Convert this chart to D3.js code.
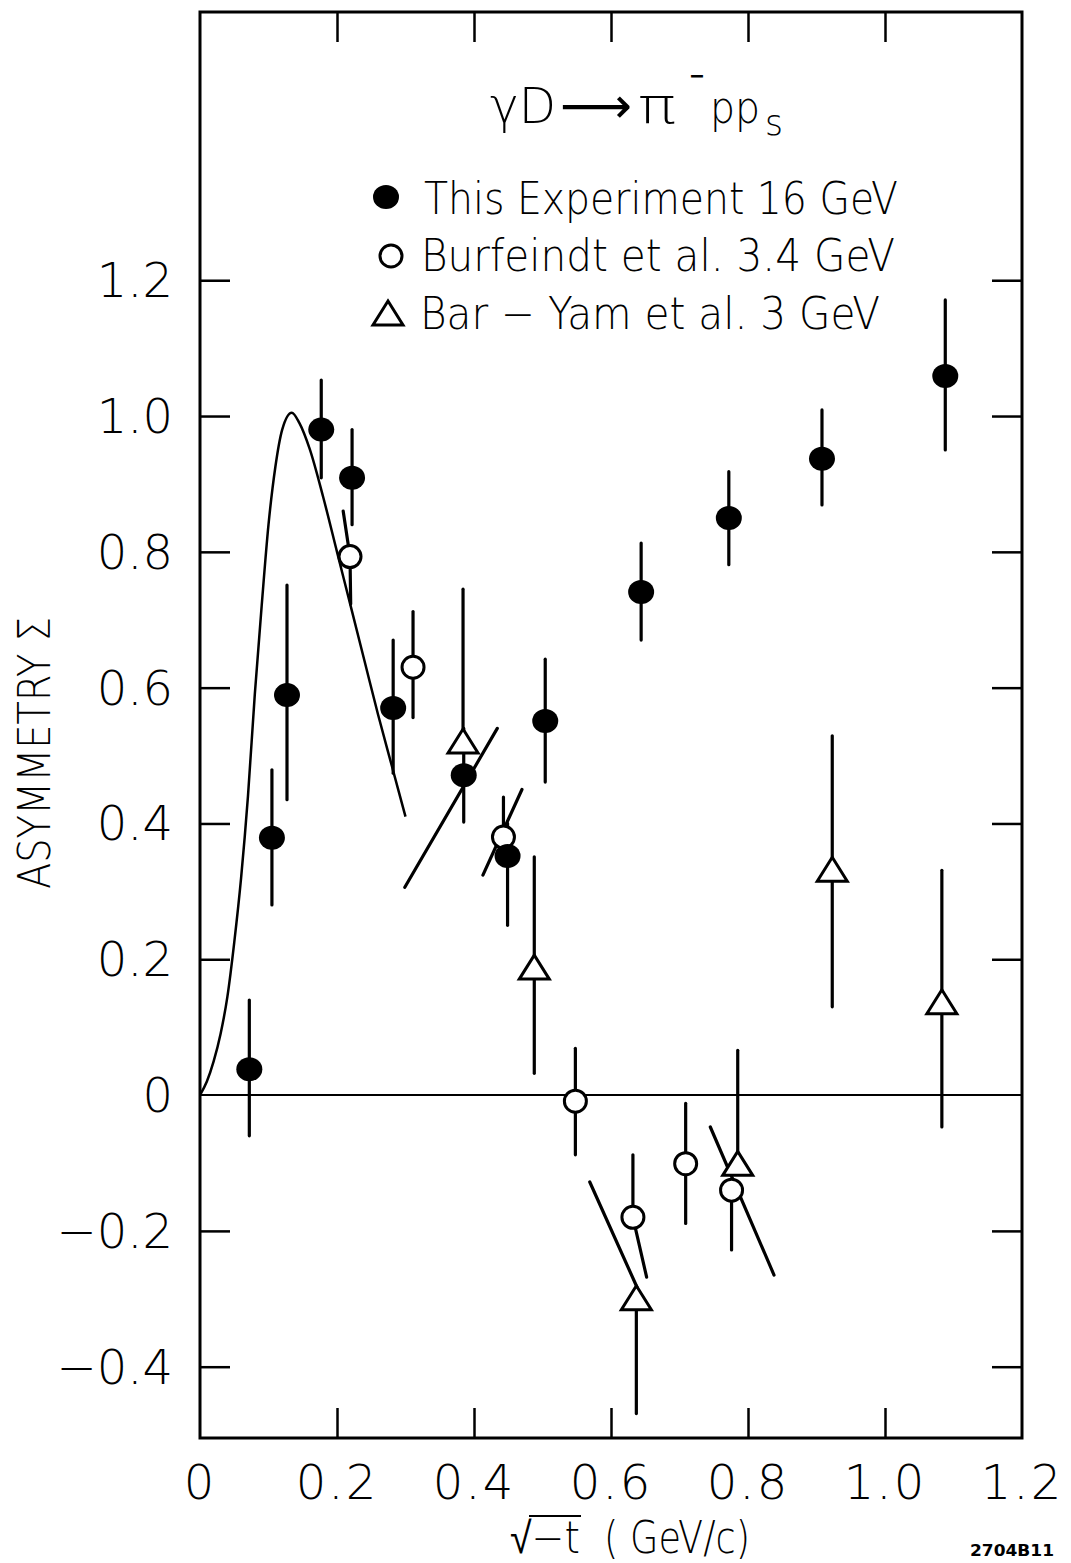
<!DOCTYPE html>
<html><head><meta charset="utf-8">
<script src="https://cdn.jsdelivr.net/npm/d3@7"></script>
<style>body{margin:0;background:#fff}svg{display:block}</style>
</head><body>
<svg id="c" width="1071" height="1563"></svg>
<script>
// ---- axis ticks ----
const xTickValues = [0, 0.2, 0.4, 0.6, 0.8, 1.0, 1.2];
const xTickLabels = ["0", "0.2", "0.4", "0.6", "0.8", "1.0", "1.2"];
const yTickValues = [-0.4, -0.2, 0, 0.2, 0.4, 0.6, 0.8, 1.0, 1.2];
const yTickLabels = ["\u22120.4", "\u22120.2", "0", "0.2", "0.4", "0.6", "0.8", "1.0", "1.2"];

// ---- This Experiment 16 GeV (filled circles) ----
const expX  = [0.072, 0.105, 0.127, 0.177, 0.222, 0.282, 0.385, 0.449, 0.504, 0.644, 0.772, 0.908, 1.088];
const expY  = [0.038, 0.379, 0.589, 0.980, 0.909, 0.570, 0.471, 0.352, 0.551, 0.741, 0.850, 0.937, 1.059];
const expLo = [-0.060, 0.280, 0.435, 0.909, 0.840, 0.474, 0.402, 0.250, 0.461, 0.670, 0.781, 0.869, 0.950];
const expHi = [0.140, 0.479, 0.751, 1.053, 0.980, 0.670, 0.540, 0.400, 0.642, 0.813, 0.918, 1.009, 1.171];

// ---- Burfeindt et al. 3.4 GeV (open circles); bar end points ----
const burX   = [0.219, 0.311, 0.443, 0.548, 0.632, 0.709, 0.776];
const burY   = [0.793, 0.630, 0.380, -0.009, -0.180, -0.101, -0.140];
const burHiX = [0.209, 0.311, 0.443, 0.548, 0.632, 0.709, 0.776];
const burHiY = [0.860, 0.712, 0.439, 0.069, -0.088, -0.012, -0.140];
const burLoX = [0.220, 0.311, 0.443, 0.548, 0.652, 0.709, 0.776];
const burLoY = [0.723, 0.556, 0.380, -0.088, -0.268, -0.189, -0.228];

// ---- Bar-Yam et al. 3 GeV (open triangles) ----
const byX  = [0.384, 0.488, 0.637, 0.785, 0.923, 1.083];
const byY  = [0.520, 0.187, -0.300, -0.102, 0.331, 0.136];
const byHi = [0.745, 0.351, -0.300, 0.066, 0.529, 0.331];
const byLo = [0.520, 0.032, -0.469, -0.102, 0.130, -0.047];

// ---- slanted error segments ----
const slX1 = [0.299, 0.413, 0.569, 0.745];
const slY1 = [0.306, 0.324, -0.128, -0.047];
const slX2 = [0.434, 0.470, 0.638, 0.838];
const slY2 = [0.540, 0.450, -0.283, -0.265];

// ---- theory curve ----
const curveX = [0, 0.01, 0.02, 0.03, 0.04, 0.05, 0.06, 0.07, 0.08, 0.09, 0.10, 0.11, 0.12, 0.134,
                0.145, 0.16, 0.18, 0.20, 0.22, 0.24, 0.26, 0.28, 0.30];
const curveY = [0, 0.02, 0.05, 0.09, 0.145, 0.225, 0.32, 0.44, 0.59, 0.72, 0.84, 0.925, 0.98, 1.005,
                0.99, 0.952, 0.88, 0.80, 0.72, 0.64, 0.56, 0.485, 0.41];

const FONT = "'DejaVu Sans', sans-serif";
const svg = d3.select("#c");
const x = d3.scaleLinear().domain([0, 1.2]).range([200, 1022]);
const y = d3.scaleLinear().domain([-0.505, 1.595]).range([1438, 12]);
const X0 = x.range()[0], X1 = x.range()[1], Y0 = y.range()[0], Y1 = y.range()[1];
const TL = 30;

const g = svg.append("g");

// frame
g.append("rect").attr("x", X0).attr("y", Y1).attr("width", X1 - X0).attr("height", Y0 - Y1)
  .attr("fill", "none").attr("stroke", "#000").attr("stroke-width", 3);

// axes with inward ticks via d3 axis
const innerX = xTickValues.filter(v => v > 0 && v < 1.2);
const innerY = yTickValues.filter(v => v !== 0);
const axB = g.append("g").attr("transform", `translate(0,${Y0})`)
  .call(d3.axisTop(x).tickValues(innerX).tickSize(TL).tickFormat(""));
const axT = g.append("g").attr("transform", `translate(0,${Y1})`)
  .call(d3.axisBottom(x).tickValues(innerX).tickSize(TL).tickFormat(""));
const axL = g.append("g").attr("transform", `translate(${X0},0)`)
  .call(d3.axisRight(y).tickValues(innerY).tickSize(TL).tickFormat(""));
const axR = g.append("g").attr("transform", `translate(${X1},0)`)
  .call(d3.axisLeft(y).tickValues(innerY).tickSize(TL).tickFormat(""));
[axB, axT, axL, axR].forEach(a => {
  a.select(".domain").remove();
  a.selectAll("line").attr("stroke", "#000").attr("stroke-width", 2.5);
});

// tick labels
g.selectAll(".xl").data(xTickValues).enter().append("text")
  .attr("x", d => x(d)).attr("y", 1499).attr("text-anchor", "middle")
  .attr("font-family", FONT).attr("font-weight", 200).attr("font-size", 48).attr("letter-spacing", 2)
  .text((d, i) => xTickLabels[i]);
g.selectAll(".yl").data(yTickValues).enter().append("text")
  .attr("x", 173).attr("y", d => y(d) + 17).attr("text-anchor", "end")
  .attr("font-family", FONT).attr("font-weight", 200).attr("font-size", 48)
  .text((d, i) => yTickLabels[i]);

// zero line
g.append("line").attr("x1", X0).attr("x2", X1).attr("y1", y(0)).attr("y2", y(0))
  .attr("stroke", "#000").attr("stroke-width", 2);

// theory curve
const curvePts = curveX.map((v, i) => [v, curveY[i]]);
g.append("path").datum(curvePts)
  .attr("d", d3.line().x(d => x(d[0])).y(d => y(d[1])).curve(d3.curveMonotoneX))
  .attr("fill", "none").attr("stroke", "#000").attr("stroke-width", 2.5);

const bars = g.append("g").attr("stroke", "#000").attr("stroke-width", 3.2).attr("stroke-linecap", "round");
expX.forEach((v, i) => bars.append("line").attr("x1", x(v)).attr("x2", x(v)).attr("y1", y(expLo[i])).attr("y2", y(expHi[i])));
burX.forEach((v, i) => {
  bars.append("line").attr("x1", x(v)).attr("y1", y(burY[i])).attr("x2", x(burHiX[i])).attr("y2", y(burHiY[i]));
  bars.append("line").attr("x1", x(v)).attr("y1", y(burY[i])).attr("x2", x(burLoX[i])).attr("y2", y(burLoY[i]));
});
byX.forEach((v, i) => bars.append("line").attr("x1", x(v)).attr("x2", x(v)).attr("y1", y(byLo[i])).attr("y2", y(byHi[i])));
slX1.forEach((v, i) => bars.append("line").attr("x1", x(v)).attr("y1", y(slY1[i])).attr("x2", x(slX2[i])).attr("y2", y(slY2[i])));

// markers
const triPath = "M0,-13L15,11L-15,11Z";
const openC = (sel, cx, cy) => sel.append("circle").attr("cx", cx).attr("cy", cy).attr("r", 11)
  .attr("fill", "#fff").attr("stroke", "#000").attr("stroke-width", 3);
const tri = (sel, cx, cy) => sel.append("path").attr("d", triPath).attr("transform", `translate(${cx},${cy})`)
  .attr("fill", "#fff").attr("stroke", "#000").attr("stroke-width", 3).attr("stroke-linejoin", "miter");
const fillC = (sel, cx, cy) => sel.append("ellipse").attr("cx", cx).attr("cy", cy).attr("rx", 13).attr("ry", 12).attr("fill", "#000");

const mk = g.append("g");
burX.forEach((v, i) => openC(mk, x(v), y(burY[i])));
byX.forEach((v, i) => tri(mk, x(v), y(byY[i])));
expX.forEach((v, i) => fillC(mk, x(v), y(expY[i])));

// title  γD ⟶ π⁻ pp_s  (one text element, positioned tspans)
const title = g.append("text").attr("font-family", FONT).attr("font-weight", 200).attr("font-size", 50);
const ts = (txt, tx, ty, fs, len, wt) => {
  const e = title.append("tspan").attr("x", tx).attr("y", ty).attr("font-size", fs).text(txt);
  if (len) e.attr("textLength", len).attr("lengthAdjust", "spacingAndGlyphs");
  if (wt) e.attr("font-weight", wt);
  return e;
};
ts("\u03b3D", 490, 123, 50, 66);
ts("\u27f6", 560, 123, 50, 72, 400);
ts("\u03c0", 638, 123, 50, 38);
ts("\u2212", 689, 83, 22, 16, 700);
ts("pp", 710, 123, 44, 50);
ts("s", 765, 135, 36, 18);

// legend
const leg = g.append("g");
fillC(leg, 386, 197);
openC(leg, 391, 256);
tri(leg, 388, 314);
const legT = [["This Experiment  16 GeV", 424, 214, 474], ["Burfeindt et al.  3.4 GeV", 421, 271, 474], ["Bar \u2212 Yam et al.  3 GeV", 420, 329, 460]];
legT.forEach(d => leg.append("text").attr("x", d[1]).attr("y", d[2]).attr("font-family", FONT).attr("font-weight", 200)
  .attr("font-size", 44).attr("textLength", d[3]).attr("lengthAdjust", "spacingAndGlyphs").text(d[0]));

// axis titles
g.append("text").attr("transform", "translate(50,753) rotate(-90)").attr("text-anchor", "middle")
  .attr("font-family", FONT).attr("font-weight", 200).attr("font-size", 44)
  .attr("textLength", 272).attr("lengthAdjust", "spacingAndGlyphs").text("ASYMMETRY \u03a3");
const xt = g.append("text").attr("font-family", FONT).attr("font-weight", 200).attr("font-size", 44);
xt.append("tspan").attr("x", 510).attr("y", 1553).attr("textLength", 70).attr("lengthAdjust", "spacingAndGlyphs").text("\u221a\u2212t");
xt.append("tspan").attr("x", 604).attr("y", 1553).attr("textLength", 146).attr("lengthAdjust", "spacingAndGlyphs").text("( GeV/c)");
g.append("line").attr("x1", 529).attr("x2", 581).attr("y1", 1516).attr("y2", 1516).attr("stroke", "#000").attr("stroke-width", 2);
g.append("text").attr("x", 970).attr("y", 1556).attr("font-family", FONT).attr("font-weight", 700).attr("font-size", 16)
  .attr("textLength", 84).attr("lengthAdjust", "spacingAndGlyphs").text("2704B11");
</script>
</body></html>
